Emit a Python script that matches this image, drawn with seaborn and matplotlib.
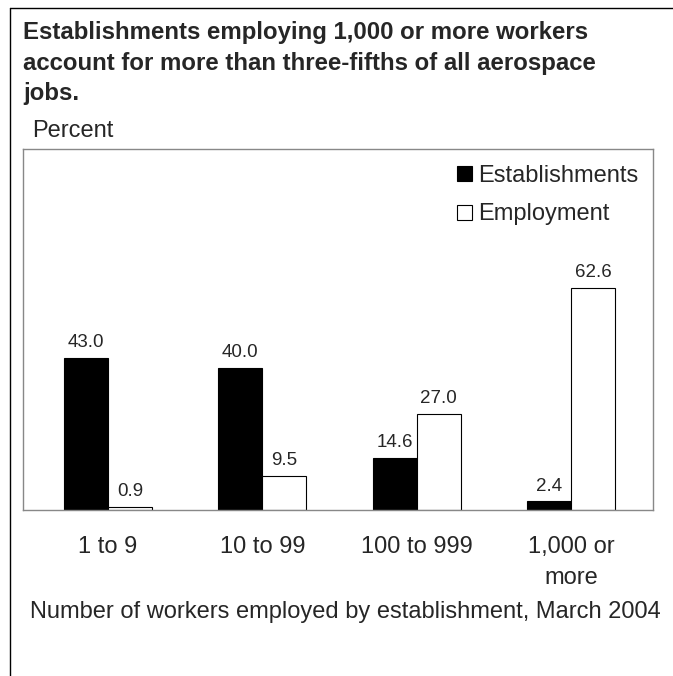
import pandas as pd
import numpy as np
import matplotlib.pyplot as plt
import seaborn as sns

# -------- Data --------
categories = ["1 to 9", "10 to 99", "100 to 999", "1,000 or\nmore"]
establishments = [43.0, 40.0, 14.6, 2.4]
employment = [0.9, 9.5, 27.0, 62.6]

df = pd.DataFrame({
    "Size": categories * 2,
    "Series": ["Establishments"] * 4 + ["Employment"] * 4,
    "Percent": establishments + employment,
})

# -------- Plot setup --------
sns.set_style("white")
plt.rcParams['font.family'] = ['Liberation Sans', 'DejaVu Sans']

fig = plt.figure(figsize=(6.73, 6.76), dpi=100)
ax = fig.add_axes([23 / 673, 1 - 510 / 676, 630 / 673, 361 / 676])

sns.barplot(data=df, x="Size", y="Percent", hue="Series",
            palette={"Establishments": "black", "Employment": "white"},
            edgecolor="black", linewidth=0.8, width=0.57, gap=0,
            ax=ax)

# value labels
for container in ax.containers:
    ax.bar_label(container, fmt="%.1f", padding=5, fontsize=13.5)

ax.set_xlim(-0.55, 3.53)
ax.set_ylim(0, 101.8)
ax.set_yticks([])
ax.set_xlabel("")
ax.set_ylabel("")
ax.tick_params(axis="x", length=0, labelsize=17, pad=19)
for lbl in ax.get_xticklabels():
    lbl.set_linespacing(1.5)
for s in ax.spines.values():
    s.set_color("#888888")
    s.set_linewidth(1)

leg = ax.legend(loc="upper right", frameon=False, fontsize=17,
                handlelength=0.6, handleheight=0.6, handletextpad=0.3,
                labelspacing=0.7, borderaxespad=0.2,
                bbox_to_anchor=(1.0, 0.995))

# -------- Texts --------
fig.text(23 / 673, 1 - 21 / 676,
         "Establishments employing 1,000 or more workers\n"
         "account for more than three-fifths of all aerospace\n"
         "jobs.", fontsize=17.3, fontweight="bold", va="top", ha="left",
         linespacing=1.42)
fig.text(32 / 673, 1 - 131 / 676, "Percent", fontsize=17, va="center")
fig.text(30 / 673, 1 - 612 / 676,
         "Number of workers employed by establishment, March 2004",
         fontsize=17, va="center")

# page border lines
fig.add_artist(plt.Line2D([10 / 673, 10 / 673], [0, 1 - 8 / 676],
                          color="black", linewidth=1))
fig.add_artist(plt.Line2D([10 / 673, 1], [1 - 8 / 676, 1 - 8 / 676],
                          color="black", linewidth=1))

fig.savefig("out.png", dpi=100)
